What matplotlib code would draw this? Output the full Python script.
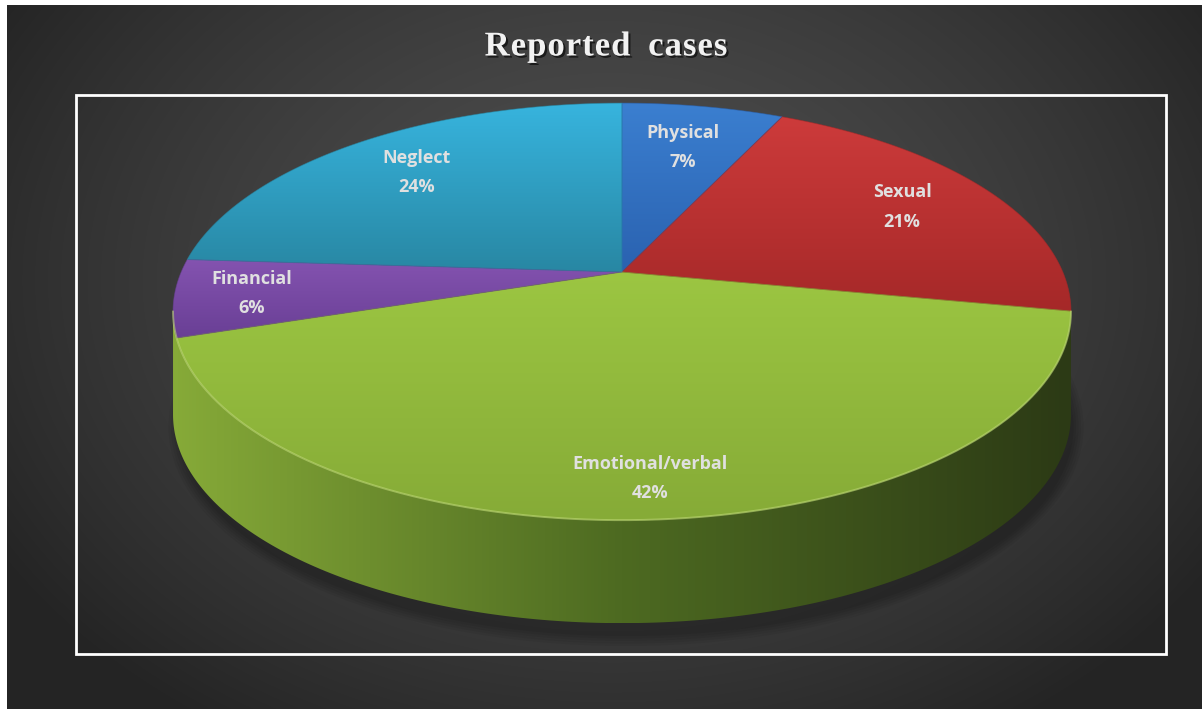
import numpy as np
import matplotlib.pyplot as plt
from matplotlib.patches import Polygon, Rectangle, Ellipse
from matplotlib.colors import LinearSegmentedColormap
from matplotlib.textpath import TextPath
from matplotlib.font_manager import FontProperties
import matplotlib.patheffects as pe

# data
categories = ["Physical", "Sexual", "Emotional/verbal", "Financial", "Neglect"]
shares = [7, 21, 42, 6, 24]
title = "Reported cases"

# style
top_colors = [("#3b7fd0", "#2a62b0"),
              ("#cd3b3b", "#a52828"),
              ("#9cc642", "#86ab37"),
              ("#8453b0", "#693f95"),
              ("#37b4de", "#2887a3")]
side_colors = [("#2a5595", "#3a6fb8", "#1d3d6e"),
               ("#8c2222", "#a02a2a", "#5e1616"),
               ("#86aa38", "#4d6a21", "#2c3a15"),
               ("#5a3580", "#6a4095", "#44275f"),
               ("#1f6f88", "#2a8aa5", "#154f61")]
label_r = [0.72, 0.76, 0.86, 0.83, 0.75]

W, H = 1202, 709
cx, cy = 622, 272          # projected centre of the pie
sx, sy = 440.8, 201.0      # projected radii
k = 0.19                   # perspective factor
depth = 103                # thickness of the pie


def proj(theta, rho=1.0):
    # theta in degrees, clockwise from the far (top) point
    t = np.radians(theta)
    X = rho * np.sin(t)
    Z = rho * np.cos(t)
    w = 1 + k * Z
    return cx + sx * X / w, cy - sy * Z / w


def grad_fill(ax, verts, stops, horizontal=False, z=2):
    poly = Polygon(verts, closed=True, facecolor="none", edgecolor="none", zorder=z)
    ax.add_patch(poly)
    cmap = LinearSegmentedColormap.from_list("g", list(stops))
    if horizontal:
        arr = np.linspace(0, 1, 256)[None, :]
    else:
        arr = np.linspace(0, 1, 256)[:, None]
    xs, ys = verts[:, 0], verts[:, 1]
    im = ax.imshow(arr, cmap=cmap, extent=(xs.min(), xs.max(), ys.max(), ys.min()),
                   aspect="auto", zorder=z, interpolation="bilinear")
    im.set_clip_path(poly)


fig = plt.figure(figsize=(W / 100, H / 100), dpi=100, facecolor="white")
ax = fig.add_axes([0, 0, 1, 1])
ax.axis("off")

# background radial gradient
gx, gy = np.meshgrid(np.arange(7, W), np.arange(5, H))
d = np.sqrt(((gx - 610) / 720.0) ** 2 + ((gy - 280) / 540.0) ** 2)
d = np.clip(d, 0, 1) ** 1.5
lum = (78 - (78 - 36) * d) / 255.0
bg = np.dstack([lum, lum, lum])
ax.imshow(bg, extent=(7, W, H, 5), aspect="auto", zorder=0, interpolation="bilinear")

# soft shadow under the pie
for i in range(5):
    ax.add_patch(Ellipse((cx + 4, 318 + depth + 6), 895 + i * 5, 418 + i * 5,
                         facecolor="black", edgecolor="none", alpha=0.05, zorder=1))

total = float(sum(shares))
bounds = np.concatenate([[0], np.cumsum(shares) / total * 360.0])
th_l = np.degrees(np.arccos(-k))
th_r = 360 - th_l

# sides (very thin slivers are folded into the big front slice)
front = int(np.argmax(shares))
for i in range(len(shares)):
    a, b = max(bounds[i], th_l), min(bounds[i + 1], th_r)
    if i == front:
        a, b = th_l, th_r
    elif b - a < 12:
        continue
    if b <= a:
        continue
    th = np.linspace(a, b, 200)
    x, y = proj(th)
    verts = np.column_stack([np.concatenate([x, x[::-1]]),
                             np.concatenate([y, y[::-1] + depth])])
    grad_fill(ax, verts, side_colors[i], horizontal=True, z=2)

# top faces
for i in range(len(shares)):
    th = np.linspace(bounds[i], bounds[i + 1], 200)
    x, y = proj(th)
    verts = np.column_stack([np.concatenate([[cx], x]), np.concatenate([[cy], y])])
    grad_fill(ax, verts, top_colors[i], z=3)
    ax.add_patch(Polygon(verts, closed=True, facecolor="none",
                         edgecolor=top_colors[i][1], lw=0.6, alpha=0.6, zorder=4))

# rim highlight on the front edge
th = np.linspace(th_l, th_r, 300)
x, y = proj(th)
ax.plot(x, y, color="#c4de7c", lw=1.4, alpha=0.55, zorder=5)

# labels
for i, name in enumerate(categories):
    mid = (bounds[i] + bounds[i + 1]) / 2
    lx, ly = proj(mid, label_r[i])
    ax.text(lx, ly - 14.5, name, ha="center", va="center", fontsize=13,
            fontfamily="Open Sans", fontweight="bold", color="#e0e0e0", zorder=6)
    ax.text(lx, ly + 15, f"{shares[i]}%", ha="center", va="center", fontsize=13,
            fontfamily="Open Sans", fontweight="bold", color="#e0e0e0", zorder=6)

# plot-area frame
ax.add_patch(Rectangle((76, 95), 1090, 559, fill=False, edgecolor="white", lw=2, zorder=7))

# title, letter-spaced
fp = FontProperties(family="Liberation Serif", weight="bold", size=25)
px = 100 / 72.0
track, word_gap = 1.0, 7
ref = TextPath((0, 0), "l", prop=fp).get_extents().x1


def advance(s):
    if not s:
        return 0.0
    return (TextPath((0, 0), s + "l", prop=fp).get_extents().x1 - ref) * px


full = advance(title) + track * (len(title) - 1) + word_gap * title.count(" ")
x0 = 606 - full / 2
for i, ch in enumerate(title):
    if ch == " ":
        continue
    xi = x0 + advance(title[:i]) + track * i + word_gap * title[:i].count(" ")
    ax.text(xi, 47, ch, ha="left", va="center", fontproperties=fp, color="#f2f2f2", zorder=8,
            path_effects=[pe.SimplePatchShadow(offset=(1.5, -1.5), shadow_rgbFace="black", alpha=0.6),
                          pe.Normal()])

ax.set_xlim(0, W)
ax.set_ylim(H, 0)
fig.savefig("out.png", dpi=100, facecolor="white")
